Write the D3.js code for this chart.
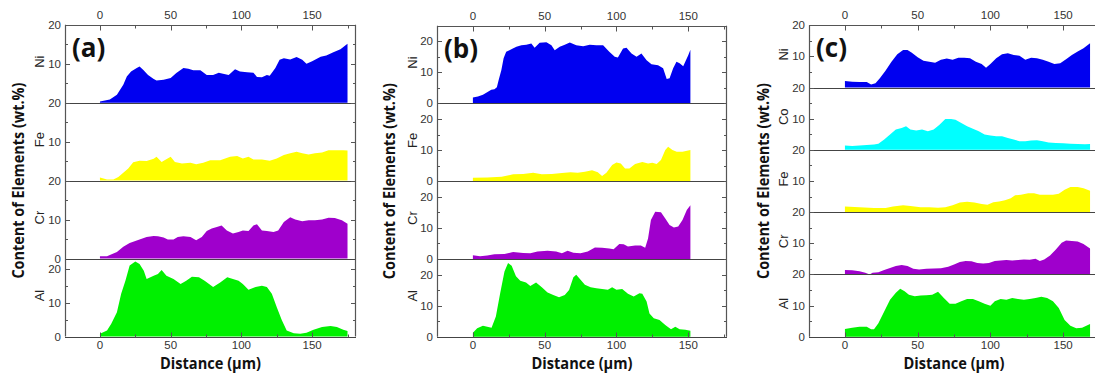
<!DOCTYPE html>
<html>
<head>
<meta charset="utf-8">
<script src="https://cdn.jsdelivr.net/npm/d3@7"></script>
<style>
  html, body { margin: 0; padding: 0; background: #fff; }
  svg { display: block; }
</style>
</head>
<body>
<svg id="chart" width="1095" height="376"></svg>
<script>
// ---- Line-scan profiles: [distance (µm), content (wt.%)] ----
// (a)
const niA = [[0,0.3],[7,0.8],[12,2],[16.5,4.6],[19,6.7],[22,8],[26,8.9],[28,9.3],[30.7,8.4],[34,7.1],[38,6.1],[40,5.7],[45,5.9],[50,6.3],[54,7.6],[59,8.9],[62.5,8.7],[66,8.3],[71,8.3],[75.5,7.1],[80,7.1],[84,7.7],[87,7.4],[91,7.1],[95.5,8.6],[99,8],[104,7.8],[108.5,7.7],[111,6.6],[114.5,6.5],[118,7.1],[120,6.9],[124,8.9],[127,11],[130,11.4],[134.5,11.1],[139,11.7],[143,11],[146,10],[150,10.6],[156,11.8],[160,12.1],[165,12.9],[170,13.7],[175,15.1]];
const feA = [[0,0.8],[5,0.3],[9.5,0.3],[13,0.9],[16.5,2],[20,3.1],[23.5,4.7],[28,5.1],[33,5],[38,5.6],[40,6.1],[43.6,4.8],[46,5.3],[50,6.1],[53,4.8],[58,4.4],[64,4.6],[68,4.2],[73,4.6],[78,5.2],[85,5.2],[92,6.1],[97,6.3],[101,5.7],[105,6.1],[108.5,5.4],[114.5,5.4],[120,5.1],[125,5.7],[130,6.6],[134.5,7],[139,7.4],[143,7],[147.5,6.7],[152,7],[157,7.2],[161.6,7.8],[167.5,7.8],[172,7.8],[175,7.7]];
const crA = [[0,0.6],[5,0.6],[12,1.7],[16.5,3],[21,4],[25,4.5],[28,4.9],[33,5.5],[38,5.8],[41,5.7],[45,5.4],[48,4.9],[52,4.9],[55,5.5],[59,5.7],[64,5.5],[68,4.7],[72,5.5],[75.5,7.1],[79,7.7],[82.6,8.1],[86,8.5],[89.7,7.2],[94,6.4],[98,6.8],[101,7.2],[105,7.1],[108.5,8.5],[111,8.8],[114.5,7.2],[118,7.1],[122.7,6.8],[126,7.2],[130,9.4],[134.5,10.6],[138,10],[143,9.6],[147.5,9.8],[152,9.8],[157,10],[161.6,10.5],[166,10.4],[171,9.8],[175,8.9]];
const alA = [[0,0.8],[5,1.8],[8,3.8],[12,7.2],[15,12.7],[18,16.6],[21,21.1],[25,22.3],[28,21.6],[31,19.6],[33,17.1],[38,18.1],[41,18.6],[43.6,19.8],[47,18.1],[52,17.1],[57,15.6],[61,16.6],[65,17.8],[70,17.6],[74,16.6],[80,14.7],[85,16.1],[90,17.6],[94,17.1],[98,16.6],[101,15.6],[105,13.9],[110,14.7],[114.5,15.1],[118,14.7],[121.5,12.7],[125,8.7],[128.6,4.8],[132,1.8],[137,1],[141.6,0.8],[146,1.1],[151,2],[157,2.8],[163,3.1],[167.5,2.8],[172,2],[175,1.6]];

// (b)
const niB = [[0,1.9],[3.5,2.2],[7,2.8],[10.5,3.8],[12.8,4.4],[15,4.6],[16.7,5.2],[18,7.6],[19.8,10.7],[21.4,14.5],[23.2,16.6],[26.8,17.4],[30.3,18.2],[33.8,18.7],[37.2,18.9],[40.7,19.3],[43,17.9],[46.5,19.5],[51.2,19.7],[54.7,18.7],[57,17.1],[60.5,18.2],[64,18.9],[67.5,19.6],[72,18.7],[76.8,18.4],[81.4,18.9],[86,18.7],[90.7,18.7],[95,16.6],[98.8,15],[101,14.8],[104.6,17.7],[107,17.9],[110.5,16.1],[114,15],[117.4,16.1],[121,13.9],[124.4,12.6],[129,12.3],[132.5,11.3],[135,7.9],[137,8.1],[139.5,11.3],[141.8,13.4],[144,12.9],[146.5,12],[150,15.5],[151.5,17.3]];
const feB = [[0,1.1],[10,1.2],[20,1.4],[28,2.2],[35,2.3],[42,2.7],[48,2.2],[55,2.3],[62,2.6],[68,2.9],[73,2.7],[78,3],[83,3.5],[87,2.9],[90,1.7],[93,2.7],[97,5.2],[100,6],[103,5.7],[106,4.1],[109,4.1],[113,5.5],[118,6.2],[122,5.7],[125,5.9],[128,5.5],[131,6.8],[134,10],[136,11.1],[139,10],[142,9.5],[146,9.5],[151.5,10]];
const crB = [[0,1.2],[5,0.9],[10,1.1],[15,1.5],[22,1.6],[28,2.2],[35,1.9],[40,1.8],[45,2.4],[52,2.6],[58,2.4],[62,1.8],[66,2.6],[70,2],[75,1.8],[80,2.4],[85,3.7],[90,3.6],[95,3.4],[98,3.1],[102,4.8],[105,4.7],[108,4],[113,4.3],[117,4.3],[120,3.6],[122,6.6],[124,12.5],[127,15.2],[131,15],[134,13],[137,10.9],[140,10.1],[143,10.4],[146,12.5],[149,15.7],[151.5,17.3]];
const alB = [[0,1.3],[3,2.7],[7,3.5],[10,3.2],[13,2.9],[16,6.5],[19,14],[22,21],[24.5,23.7],[27,22.8],[30,19.4],[33,18],[37,17.4],[40,16.3],[44,17.4],[48,15.9],[52,14.2],[56,13.4],[60,12.7],[64,13.4],[67,15],[70,19.1],[72,19.9],[75,18.3],[78,16.7],[82,15.9],[86,15.6],[90,15.3],[94,15.1],[97,15.9],[100,15.1],[104,15.3],[108,13.8],[112,12.9],[116,14],[118,13.8],[121,11.3],[123,7.5],[126,5.9],[130,5.4],[134,3.8],[138,2.4],[141,3.2],[144,2.4],[148,2.2],[151.5,1.9]];

// (c)
const niC = [[0,2.1],[5,1.9],[10,1.8],[15,1.8],[18,1],[21,1.4],[24,3],[28,5.5],[32,8.3],[36,10.7],[40,12.1],[43,12.1],[46,11.2],[50,9.7],[54,8.6],[58,8.3],[62,8],[66,8.9],[70,9.3],[74,8.9],[78,9.6],[82,9.6],[86,9.4],[90,8.3],[94,7.6],[97,6.4],[100,7.6],[104,9.4],[108,10.7],[112,11],[116,10.5],[120,10.2],[124,8.9],[128,9.6],[132,9.4],[136,8.9],[140,8.3],[144,7.6],[148,7.8],[152,9.1],[156,10.5],[160,11.6],[164,12.6],[168.5,14.2]];
const coC = [[0,1.4],[5,1.2],[10,1.4],[15,1.6],[20,1.7],[23,2],[27,3.3],[31,4.9],[35,6.5],[39,7],[42,7.6],[45,6.5],[49,6.2],[53,6.5],[57,6],[61,6.5],[65,8.1],[69,9.9],[73,9.9],[76,9.7],[80,8.6],[84,7.6],[88,6.8],[92,6],[96,4.9],[100,4.6],[104,4.4],[108,4.4],[112,3.8],[116,3.3],[120,2.8],[124,2.8],[128,3],[132,3.1],[136,2.8],[140,2.4],[145,2.2],[150,2.1],[155,2],[160,1.9],[165,1.8],[168.5,1.9]];
const feC = [[0,1.8],[10,1.6],[20,1.3],[28,1.3],[33,1.8],[40,2.2],[45,2],[52,1.6],[58,1.6],[64,1.4],[69,1.6],[74,2.2],[79,3.1],[84,3.3],[89,3.1],[94,2.6],[98,2.4],[102,3.2],[106,3.4],[110,3.8],[114,4.5],[117,5.4],[121,5.6],[126,6.1],[130,6.1],[134,5.6],[138,5.6],[143,5.6],[147,5.9],[151,7.2],[155,8.1],[160,8.1],[164,7.7],[168.5,6.9]];
const crC = [[0,1.4],[5,1.3],[10,1],[14,0.5],[17,0],[19,0.5],[23,0.7],[27,1.4],[31,2.1],[35,2.7],[39,3],[43,2.7],[47,1.8],[51,1.6],[56,1.8],[61,1.9],[66,2],[71,2.5],[75,3.2],[79,4],[83,4.3],[87,4.2],[91,3.7],[95,3.5],[99,3.7],[103,4.3],[107,4.5],[111,4.6],[115,4.5],[119,4.6],[123,4.8],[127,4.7],[131,5],[134,4.3],[137,4.8],[141,6.1],[145,8],[149,10.2],[152,10.9],[156,10.7],[160,10.6],[164,9.8],[168.5,8.3]];
const alC = [[0,2.5],[5,2.9],[10,3.2],[15,3.2],[18,2.4],[20,2.4],[23,4.3],[27,8.1],[31,11.9],[35,14.1],[38,15.4],[41,14.6],[44,13.5],[48,13],[52,13.2],[56,13.3],[60,13.5],[64,14.4],[68,12.4],[72,10.6],[76,10.6],[80,11.4],[84,12.1],[88,12.1],[92,11.4],[96,10.6],[100,9.9],[103,11.4],[107,12.1],[111,11.9],[115,12.4],[119,12.1],[123,11.9],[127,12.1],[131,12.4],[135,12.8],[139,12.4],[143,11.4],[147,9.2],[151,5.4],[155,3.5],[159,2.7],[163,2.9],[168.5,4.1]];

// Element names, panel tags and axis text
const elementsA = ["Ni", "Fe", "Cr", "Al"];
const elementsB = ["Ni", "Fe", "Cr", "Al"];
const elementsC = ["Ni", "Co", "Fe", "Cr", "Al"];
const panelTags = ["(a)", "(b)", "(c)"];
const distanceTicks = [0, 50, 100, 150];
const contentTicks = [0, 10, 20];
const yTitle = "Content of Elements (wt.%)";
const xTitle = "Distance (\u03bcm)";

const elementColor = { Ni: "#0000f0", Fe: "#ffff00", Cr: "#9f00cc", Al: "#00f000", Co: "#00ffff" };

// ---- Drawing ----
const svg = d3.select("#chart");
const frameColor = "#555";
const tickFont = "'Liberation Sans', Arial, sans-serif";
const titleFont = "'Open Sans', 'DejaVu Sans', sans-serif";

const panels = [
  { tag: panelTags[0], names: elementsA, series: [niA, feA, crA, alA], ymax: [20, 20, 20, 23.2],
    left: 65, right: 356, xDomain: [-24.7, 181], top: 24.7, bottom: 336.5, yTitleX: 18, nameX: 39 },
  { tag: panelTags[1], names: elementsB, series: [niB, feB, crB, alB], ymax: [25, 25, 25, 25],
    left: 437, right: 727, xDomain: [-25, 177], top: 25.7, bottom: 336.7, yTitleX: 389, nameX: 412 },
  { tag: panelTags[2], names: elementsC, series: [niC, coC, feC, crC, alC], ymax: [20, 20, 20, 20, 20],
    left: 809, right: 1103, xDomain: [-24.7, 177.4], top: 25.3, bottom: 336.7, yTitleX: 763, nameX: 783 }
];

panels.forEach((p, pi) => {
  const g = svg.append("g");
  const x = d3.scaleLinear().domain(p.xDomain).range([p.left, p.right]);
  const n = p.series.length;
  const h = (p.bottom - p.top) / n;

  p.series.forEach((data, i) => {
    const y0 = p.top + i * h, y1 = y0 + h;
    const y = d3.scaleLinear().domain([0, p.ymax[i]]).range([y1, y0]);
    const name = p.names[i];

    const area = d3.area()
      .x(d => x(d[0]))
      .y0(y(0))
      .y1(d => y(d[1]));
    g.append("path")
      .datum(data)
      .attr("d", area)
      .attr("fill", elementColor[name])
      .attr("stroke", "none");

    // inward ticks on left and right edges
    const minor = d3.range(5, p.ymax[i] + 0.01, 5);
    minor.concat([0]).forEach(v => {
      const len = v % 10 === 0 ? 5 : 3;
      const yy = Math.round(y(v)) + 0.5;
      g.append("line").attr("x1", p.left).attr("x2", p.left + len)
        .attr("y1", yy).attr("y2", yy).attr("stroke", frameColor);
      g.append("line").attr("x1", p.right).attr("x2", p.right - len)
        .attr("y1", yy).attr("y2", yy).attr("stroke", frameColor);
    });

    // tick labels; a panel's "0" sits under the next panel's "20" when they meet
    const nextMax = i < n - 1 ? p.ymax[i + 1] : null;
    contentTicks.filter(v => v <= p.ymax[i] + 0.01).forEach(v => {
      if (v === 0 && nextMax === 20) return;
      g.append("text")
        .attr("x", p.left - 4)
        .attr("y", y(v))
        .attr("dy", "0.35em")
        .attr("text-anchor", "end")
        .attr("font-family", tickFont)
        .attr("font-size", 11.5)
        .attr("fill", "#333")
        .text(v);
    });

    // element name
    g.append("text")
      .attr("transform", `translate(${p.nameX},${(y0 + y1) / 2 - 2}) rotate(-90)`)
      .attr("text-anchor", "middle")
      .attr("dy", "0.35em")
      .attr("font-family", tickFont)
      .attr("font-size", 13)
      .attr("fill", "#222")
      .text(name);

    // separator / bottom line
    const by = Math.round(y1) + 0.5;
    g.append("line").attr("x1", p.left).attr("x2", p.right)
      .attr("y1", by).attr("y2", by).attr("stroke", "#444").attr("stroke-width", 1.2);
  });

  // frame: left, right, top
  const ty = Math.round(p.top) + 0.5;
  g.append("line").attr("x1", p.left + 0.5).attr("x2", p.left + 0.5)
    .attr("y1", p.top).attr("y2", p.bottom).attr("stroke", frameColor).attr("stroke-width", 1.2);
  g.append("line").attr("x1", p.right - 0.5).attr("x2", p.right - 0.5)
    .attr("y1", p.top).attr("y2", p.bottom).attr("stroke", frameColor).attr("stroke-width", 1.2);
  g.append("line").attr("x1", p.left).attr("x2", p.right)
    .attr("y1", ty).attr("y2", ty).attr("stroke", frameColor).attr("stroke-width", 1.2);

  // distance ticks on top and bottom, inward
  const by = Math.round(p.bottom) + 0.5;
  d3.range(-25, p.xDomain[1] + 0.01, 25).filter(v => v > p.xDomain[0]).forEach(v => {
    const len = v % 50 === 0 ? 5 : 3;
    const xx = Math.round(x(v)) + 0.5;
    g.append("line").attr("x1", xx).attr("x2", xx).attr("y1", ty).attr("y2", ty + len).attr("stroke", frameColor);
    g.append("line").attr("x1", xx).attr("x2", xx).attr("y1", by).attr("y2", by - len).attr("stroke", frameColor);
  });
  distanceTicks.forEach(v => {
    [p.top - 6, p.bottom + 12].forEach(yy => {
      g.append("text")
        .attr("x", x(v)).attr("y", yy)
        .attr("text-anchor", "middle")
        .attr("font-family", tickFont)
        .attr("font-size", 11.5)
        .attr("fill", "#333")
        .text(v);
    });
  });

  // axis titles
  g.append("text")
    .attr("x", pi === 2 ? (p.left + p.right) / 2 - 2 : (p.left + p.right) / 2)
    .attr("y", 369)
    .attr("text-anchor", "middle")
    .attr("font-family", titleFont)
    .attr("font-weight", "bold")
    .attr("font-size", 16)
    .attr("textLength", 101)
    .attr("lengthAdjust", "spacingAndGlyphs")
    .attr("fill", "#111")
    .text(xTitle);

  g.append("text")
    .attr("transform", `translate(${p.yTitleX},${(p.top + p.bottom) / 2}) rotate(-90)`)
    .attr("text-anchor", "middle")
    .attr("dy", "0.35em")
    .attr("font-family", titleFont)
    .attr("font-weight", "bold")
    .attr("font-size", 16)
    .attr("textLength", 196)
    .attr("lengthAdjust", "spacingAndGlyphs")
    .attr("fill", "#111")
    .text(yTitle);

  // panel tag
  g.append("text")
    .attr("x", p.left + 7)
    .attr("y", p.top + 32)
    .attr("font-family", titleFont)
    .attr("font-weight", "bold")
    .attr("font-size", 26)
    .attr("fill", "#111")
    .text(p.tag);
});
</script>
</body>
</html>
